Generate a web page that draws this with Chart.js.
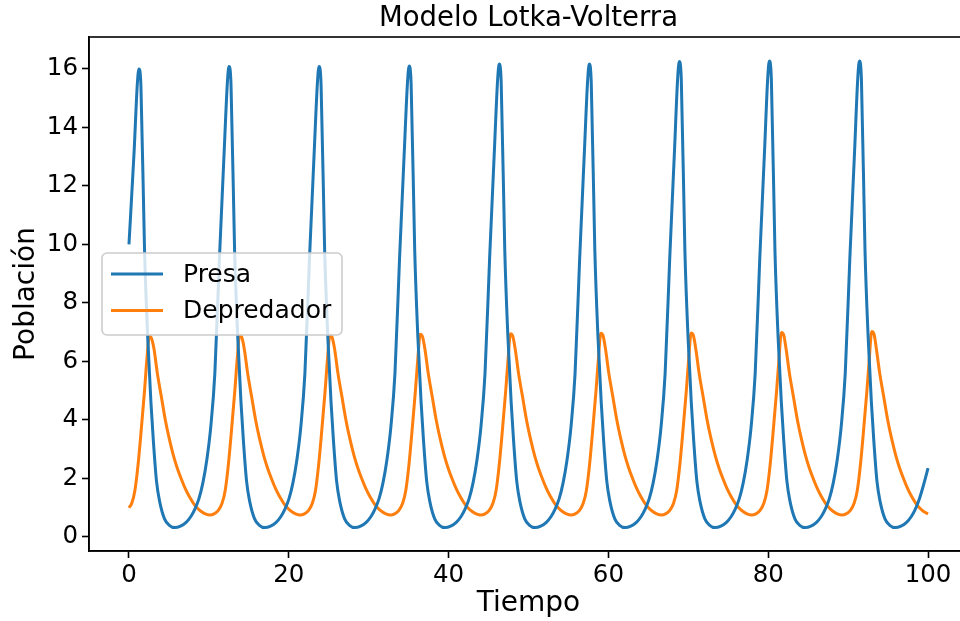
<!DOCTYPE html>
<html>
<head>
<meta charset="utf-8">
<script src="https://cdn.jsdelivr.net/npm/chart.js@4.4.0/dist/chart.umd.min.js"></script>
<style>
  html, body { margin: 0; padding: 0; background: #fff; overflow: hidden; }
  canvas { display: block; }
</style>
</head>
<body>
<canvas id="chart" width="968" height="621"></canvas>
<script>
// valores (tiempo, poblacion)
const preyT = [
  0, 0.65, 1.05,
  1.25, 1.5, 1.95, 2.35, 2.75, 3.05, 3.45, 3.85, 4.45, 5.05, 5.75, 6.45, 7.15, 7.75, 8.25, 8.75, 9.25, 9.75, 10.25, 10.75, 11.32, 11.92, 12.32,
  12.52, 12.77, 13.22, 13.62, 14.02, 14.32, 14.72, 15.12, 15.72, 16.32, 17.02, 17.72, 18.42, 19.02, 19.52, 20.02, 20.52, 21.02, 21.52, 22.02, 22.59, 23.19, 23.59,
  23.79, 24.04, 24.49, 24.89, 25.29, 25.59, 25.99, 26.39, 26.99, 27.59, 28.29, 28.99, 29.69, 30.29, 30.79, 31.29, 31.79, 32.29, 32.79, 33.29, 33.86, 34.46, 34.86,
  35.06, 35.31, 35.76, 36.16, 36.56, 36.86, 37.26, 37.66, 38.26, 38.86, 39.56, 40.26, 40.96, 41.56, 42.06, 42.56, 43.06, 43.56, 44.06, 44.56, 45.13, 45.73, 46.13,
  46.33, 46.58, 47.03, 47.43, 47.83, 48.13, 48.53, 48.93, 49.53, 50.13, 50.83, 51.53, 52.23, 52.83, 53.33, 53.83, 54.33, 54.83, 55.33, 55.83, 56.4, 57.0, 57.4,
  57.6, 57.85, 58.3, 58.7, 59.1, 59.4, 59.8, 60.2, 60.8, 61.4, 62.1, 62.8, 63.5, 64.1, 64.6, 65.1, 65.6, 66.1, 66.6, 67.1, 67.67, 68.27, 68.67,
  68.87, 69.12, 69.57, 69.97, 70.37, 70.67, 71.07, 71.47, 72.07, 72.67, 73.37, 74.07, 74.77, 75.37, 75.87, 76.37, 76.87, 77.37, 77.87, 78.37, 78.94, 79.54, 79.94,
  80.14, 80.39, 80.84, 81.24, 81.64, 81.94, 82.34, 82.74, 83.34, 83.94, 84.64, 85.34, 86.04, 86.64, 87.14, 87.64, 88.14, 88.64, 89.14, 89.64, 90.21, 90.81, 91.21,
  91.41, 91.66, 92.11, 92.51, 92.91, 93.21, 93.61, 94.01, 94.61, 95.21, 95.91, 96.61, 97.31, 97.91, 98.41, 98.91, 99.41, 100
];
const preyY = [
  10.0, 13.2, 15.5,
  16.0, 15.4, 9.8, 6.8, 4.6, 3.3, 1.9, 1.2, 0.62, 0.40, 0.32, 0.37, 0.5, 0.7, 0.95, 1.3, 1.85, 2.65, 3.8, 5.6, 9.5, 13.2, 15.55,
  16.08, 15.48, 9.8, 6.8, 4.6, 3.3, 1.9, 1.2, 0.62, 0.40, 0.32, 0.37, 0.5, 0.7, 0.95, 1.3, 1.85, 2.65, 3.8, 5.6, 9.5, 13.2, 15.55,
  16.08, 15.48, 9.8, 6.8, 4.6, 3.3, 1.9, 1.2, 0.62, 0.40, 0.32, 0.37, 0.5, 0.7, 0.95, 1.3, 1.85, 2.65, 3.8, 5.6, 9.5, 13.2, 15.55,
  16.1, 15.5, 9.8, 6.8, 4.6, 3.3, 1.9, 1.2, 0.62, 0.40, 0.32, 0.37, 0.5, 0.7, 0.95, 1.3, 1.85, 2.65, 3.8, 5.6, 9.5, 13.2, 15.6,
  16.17, 15.57, 9.8, 6.8, 4.6, 3.3, 1.9, 1.2, 0.62, 0.40, 0.32, 0.37, 0.5, 0.7, 0.95, 1.3, 1.85, 2.65, 3.8, 5.6, 9.5, 13.2, 15.6,
  16.17, 15.57, 9.8, 6.8, 4.6, 3.3, 1.9, 1.2, 0.62, 0.40, 0.32, 0.37, 0.5, 0.7, 0.95, 1.3, 1.85, 2.65, 3.8, 5.6, 9.5, 13.2, 15.7,
  16.25, 15.65, 9.8, 6.8, 4.6, 3.3, 1.9, 1.2, 0.62, 0.40, 0.32, 0.37, 0.5, 0.7, 0.95, 1.3, 1.85, 2.65, 3.8, 5.6, 9.5, 13.2, 15.7,
  16.27, 15.67, 9.8, 6.8, 4.6, 3.3, 1.9, 1.2, 0.62, 0.40, 0.32, 0.37, 0.5, 0.7, 0.95, 1.3, 1.85, 2.65, 3.8, 5.6, 9.5, 13.2, 15.7,
  16.27, 15.67, 9.8, 6.8, 4.6, 3.3, 1.9, 1.2, 0.62, 0.40, 0.32, 0.37, 0.5, 0.7, 0.95, 1.3, 1.75, 2.35
];

const predT = [
  0, 0.35, 0.75, 1.15, 1.55, 1.95, 2.25,
  2.55, 2.85, 3.15, 3.55, 4.05, 4.55, 5.05, 5.55, 6.05, 6.55, 7.05, 7.55, 8.05, 8.55, 9.05, 9.55, 10.15, 10.65, 11.15, 11.65, 12.05, 12.45, 12.85, 13.25, 13.55,
  13.85, 14.15, 14.45, 14.85, 15.35, 15.85, 16.35, 16.85, 17.35, 17.85, 18.35, 18.85, 19.35, 19.85, 20.35, 20.85, 21.45, 21.95, 22.45, 22.95, 23.35, 23.75, 24.15, 24.55, 24.85,
  25.15, 25.45, 25.75, 26.15, 26.65, 27.15, 27.65, 28.15, 28.65, 29.15, 29.65, 30.15, 30.65, 31.15, 31.65, 32.15, 32.75, 33.25, 33.75, 34.25, 34.65, 35.05, 35.45, 35.85, 36.15,
  36.45, 36.75, 37.05, 37.45, 37.95, 38.45, 38.95, 39.45, 39.95, 40.45, 40.95, 41.45, 41.95, 42.45, 42.95, 43.45, 44.05, 44.55, 45.05, 45.55, 45.95, 46.35, 46.75, 47.15, 47.45,
  47.75, 48.05, 48.35, 48.75, 49.25, 49.75, 50.25, 50.75, 51.25, 51.75, 52.25, 52.75, 53.25, 53.75, 54.25, 54.75, 55.35, 55.85, 56.35, 56.85, 57.25, 57.65, 58.05, 58.45, 58.75,
  59.05, 59.35, 59.65, 60.05, 60.55, 61.05, 61.55, 62.05, 62.55, 63.05, 63.55, 64.05, 64.55, 65.05, 65.55, 66.05, 66.65, 67.15, 67.65, 68.15, 68.55, 68.95, 69.35, 69.75, 70.05,
  70.35, 70.65, 70.95, 71.35, 71.85, 72.35, 72.85, 73.35, 73.85, 74.35, 74.85, 75.35, 75.85, 76.35, 76.85, 77.35, 77.95, 78.45, 78.95, 79.45, 79.85, 80.25, 80.65, 81.05, 81.35,
  81.65, 81.95, 82.25, 82.65, 83.15, 83.65, 84.15, 84.65, 85.15, 85.65, 86.15, 86.65, 87.15, 87.65, 88.15, 88.65, 89.25, 89.75, 90.25, 90.75, 91.15, 91.55, 91.95, 92.35, 92.65,
  92.95, 93.25, 93.55, 93.95, 94.45, 94.95, 95.45, 95.95, 96.45, 96.95, 97.45, 97.95, 98.45, 98.95, 99.45, 100
];
const predY = [
  1.0, 1.15, 1.6, 2.5, 3.7, 5.0, 6.1,
  6.87, 6.77, 6.4, 5.6, 4.8, 4.0, 3.35, 2.8, 2.35, 1.98, 1.65, 1.38, 1.16, 0.99, 0.87, 0.79, 0.75, 0.79, 0.9, 1.15, 1.6, 2.5, 3.7, 5.0, 6.1,
  6.9, 6.8, 6.4, 5.6, 4.8, 4.0, 3.35, 2.8, 2.35, 1.98, 1.65, 1.38, 1.16, 0.99, 0.87, 0.79, 0.75, 0.79, 0.9, 1.15, 1.6, 2.5, 3.7, 5.0, 6.1,
  6.9, 6.8, 6.4, 5.6, 4.8, 4.0, 3.35, 2.8, 2.35, 1.98, 1.65, 1.38, 1.16, 0.99, 0.87, 0.79, 0.75, 0.79, 0.9, 1.15, 1.6, 2.5, 3.7, 5.0, 6.1,
  6.93, 6.83, 6.4, 5.6, 4.8, 4.0, 3.35, 2.8, 2.35, 1.98, 1.65, 1.38, 1.16, 0.99, 0.87, 0.79, 0.75, 0.79, 0.9, 1.15, 1.6, 2.5, 3.7, 5.0, 6.1,
  6.95, 6.85, 6.4, 5.6, 4.8, 4.0, 3.35, 2.8, 2.35, 1.98, 1.65, 1.38, 1.16, 0.99, 0.87, 0.79, 0.75, 0.79, 0.9, 1.15, 1.6, 2.5, 3.7, 5.0, 6.1,
  6.96, 6.86, 6.4, 5.6, 4.8, 4.0, 3.35, 2.8, 2.35, 1.98, 1.65, 1.38, 1.16, 0.99, 0.87, 0.79, 0.75, 0.79, 0.9, 1.15, 1.6, 2.5, 3.7, 5.0, 6.1,
  6.97, 6.87, 6.4, 5.6, 4.8, 4.0, 3.35, 2.8, 2.35, 1.98, 1.65, 1.38, 1.16, 0.99, 0.87, 0.79, 0.75, 0.79, 0.9, 1.15, 1.6, 2.5, 3.7, 5.0, 6.1,
  6.99, 6.89, 6.4, 5.6, 4.8, 4.0, 3.35, 2.8, 2.35, 1.98, 1.65, 1.38, 1.16, 0.99, 0.87, 0.79, 0.75, 0.79, 0.9, 1.15, 1.6, 2.5, 3.7, 5.0, 6.1,
  7.02, 6.92, 6.4, 5.6, 4.8, 4.0, 3.35, 2.8, 2.35, 1.98, 1.65, 1.38, 1.16, 0.99, 0.87, 0.79
];

const xTicks = [0, 20, 40, 60, 80, 100];
const yTicks = [0, 2, 4, 6, 8, 10, 12, 14, 16];

const FONT = "'DejaVu Sans', sans-serif";

const toPoints = (xs, ys) => xs.map((x, i) => ({ x: x, y: ys[i] }));

// title over plot area, frame on all 4 sides, legend box inside the axes
const decor = {
    id: 'decor',
    afterDatasetsDraw(chart) {
        const { ctx, chartArea: a } = chart;
        ctx.save();
        // legend
        const bx = a.left + 13, by = a.top + 216, bw = 240, bh = 82, r = 5;
        ctx.beginPath();
        ctx.roundRect(bx, by, bw, bh, r);
        ctx.fillStyle = 'rgba(255,255,255,0.8)';
        ctx.fill();
        ctx.strokeStyle = '#cccccc';
        ctx.lineWidth = 1.6;
        ctx.stroke();
        ctx.font = '25px ' + FONT;
        ctx.textBaseline = 'middle';
        ctx.fillStyle = '#000';
        const rows = [by + 21, by + 57.5];
        chart.data.datasets.forEach((ds, i) => {
            ctx.beginPath();
            ctx.moveTo(bx + 9, rows[i]);
            ctx.lineTo(bx + 61, rows[i]);
            ctx.strokeStyle = ds.borderColor;
            ctx.lineWidth = 3;
            ctx.stroke();
            ctx.fillText(ds.label, bx + 81, rows[i] + 1);
        });
        // frame
        ctx.strokeStyle = '#000';
        ctx.lineWidth = 1.6;
        ctx.strokeRect(a.left, a.top, a.right - a.left, a.bottom - a.top);
        // title
        ctx.font = '27.5px ' + FONT;
        ctx.textAlign = 'center';
        ctx.fillText('Modelo Lotka-Volterra', (a.left + a.right) / 2, 19);
        ctx.restore();
    }
};

new Chart(document.getElementById('chart').getContext('2d'), {
    type: 'line',
    data: {
        datasets: [
            {
                label: 'Presa',
                data: toPoints(preyT, preyY),
                borderColor: '#1f77b4',
                borderWidth: 3,
                pointRadius: 0,
                cubicInterpolationMode: 'monotone',
                fill: false
            },
            {
                label: 'Depredador',
                data: toPoints(predT, predY),
                borderColor: '#ff7f0e',
                borderWidth: 3,
                pointRadius: 0,
                cubicInterpolationMode: 'monotone',
                fill: false
            }
        ]
    },
    options: {
        responsive: false,
        animation: false,
        devicePixelRatio: 1,
        layout: { padding: { top: 37, left: 0, right: 0, bottom: 0 } },
        plugins: {
            legend: { display: false },
            tooltip: { enabled: false },
            title: { display: false }
        },
        scales: {
            x: {
                type: 'linear',
                min: -5,
                max: 105,
                afterBuildTicks: s => { s.ticks = xTicks.map(v => ({ value: v })); },
                afterFit: s => { s.height = 70; },
                ticks: { color: '#000', font: { family: FONT, size: 24.5 }, padding: 3, maxRotation: 0 },
                grid: { drawOnChartArea: false, drawTicks: true, tickLength: 7, tickWidth: 1.6, tickColor: '#000' },
                border: { display: true, color: '#000', width: 1.6 },
                title: { display: true, text: 'Tiempo', color: '#000', font: { family: FONT, size: 28 }, padding: { top: 0, bottom: 0 } }
            },
            y: {
                type: 'linear',
                min: -0.48,
                max: 17.09,
                afterBuildTicks: s => { s.ticks = yTicks.map(v => ({ value: v })); },
                afterFit: s => { s.width = 89; },
                ticks: { color: '#000', font: { family: FONT, size: 24.5 }, padding: 4 },
                grid: { drawOnChartArea: false, drawTicks: true, tickLength: 7, tickWidth: 1.6, tickColor: '#000' },
                border: { display: true, color: '#000', width: 1.6 },
                title: { display: true, text: 'Población', color: '#000', font: { family: FONT, size: 28 }, padding: { top: 10, bottom: 0 } }
            }
        }
    },
    plugins: [decor]
});
</script>
</body>
</html>
